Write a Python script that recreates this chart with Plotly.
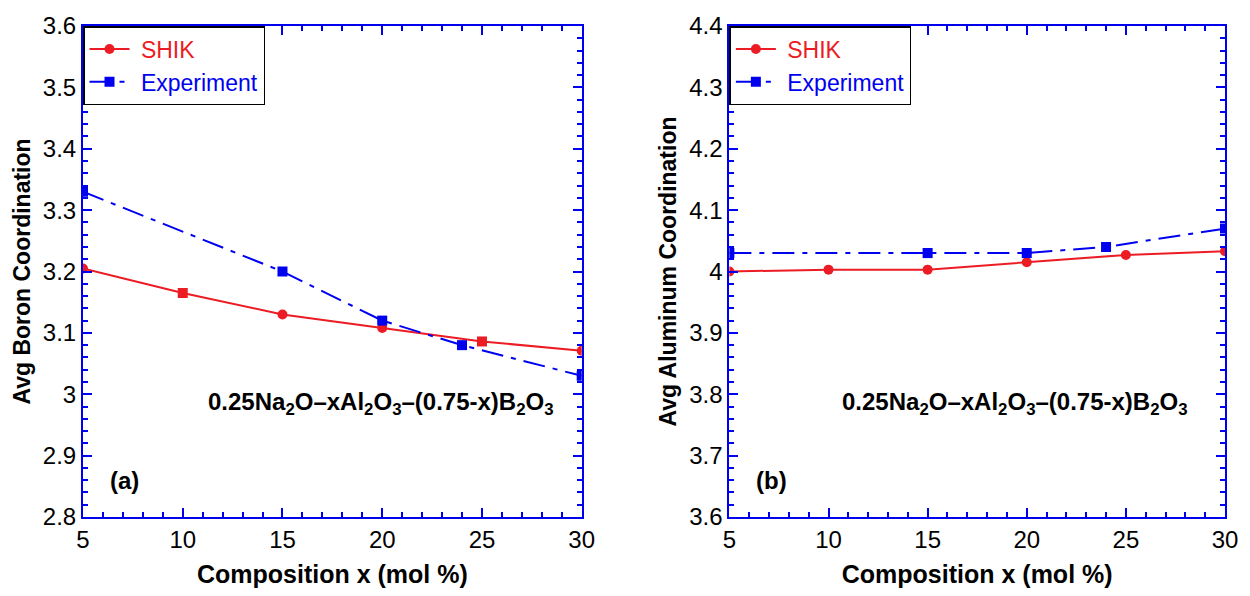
import plotly.graph_objects as go

# ---- data ----
x_shik = [5, 10, 15, 20, 25, 30]
boron_shik = [3.205, 3.165, 3.130, 3.108, 3.086, 3.071]
boron_shik_sym = ["circle", "square", "circle", "circle", "square", "circle"]
x_exp_b = [5, 15, 20, 24, 30]
boron_exp = [3.330, 3.200, 3.120, 3.080, 3.030]

al_shik = [4.000, 4.003, 4.003, 4.015, 4.027, 4.033]
x_exp_al = [5, 15, 20, 24, 30]
al_exp = [4.030, 4.030, 4.030, 4.040, 4.070]

x_ticks = [5, 10, 15, 20, 25, 30]
boron_ticks = [2.8, 2.9, 3.0, 3.1, 3.2, 3.3, 3.4, 3.5, 3.6]
al_ticks = [3.6, 3.7, 3.8, 3.9, 4.0, 4.1, 4.2, 4.3, 4.4]

RED = "#EC1C24"
BLUE = "#0000F0"
FONT = "Liberation Sans, Arial, sans-serif"
DASH = "22px,8px,5px,8px"

fig = go.Figure()

fig.add_trace(go.Scatter(x=x_shik, y=boron_shik, mode="lines+markers",
                         name=f"<span style='color:{RED}'>\u00a0SHIK</span>",
                         line=dict(color=RED, width=2),
                         marker=dict(symbol=boron_shik_sym, size=10, color=RED),
                         xaxis="x", yaxis="y", legend="legend"))
fig.add_trace(go.Scatter(x=x_exp_b, y=boron_exp, mode="lines+markers",
                         name=f"<span style='color:{BLUE}'>\u00a0Experiment</span>",
                         line=dict(color=BLUE, width=2, dash=DASH),
                         marker=dict(symbol="square", size=10, color=BLUE),
                         xaxis="x", yaxis="y", legend="legend"))
fig.add_trace(go.Scatter(x=x_shik, y=al_shik, mode="lines+markers",
                         name=f"<span style='color:{RED}'>\u00a0SHIK</span>",
                         line=dict(color=RED, width=2),
                         marker=dict(symbol="circle", size=10, color=RED),
                         xaxis="x2", yaxis="y2", legend="legend2"))
fig.add_trace(go.Scatter(x=x_exp_al, y=al_exp, mode="lines+markers",
                         name=f"<span style='color:{BLUE}'>\u00a0Experiment</span>",
                         line=dict(color=BLUE, width=2, dash=DASH),
                         marker=dict(symbol="square", size=10, color=BLUE),
                         xaxis="x2", yaxis="y2", legend="legend2"))

def xax(domain, anchor):
    return dict(domain=domain, anchor=anchor, range=[5, 30], tickvals=x_ticks,
                ticks="inside", ticklen=9, tickwidth=2, tickcolor=BLUE,
                minor=dict(dtick=1, ticks="inside", ticklen=5, tickwidth=1.5, tickcolor=BLUE),
                showline=True, linecolor=BLUE, linewidth=2, mirror="allticks",
                showgrid=False, zeroline=False,
                tickfont=dict(family=FONT, size=24, color="black"),
                title=dict(text="<b>Composition x (mol %)</b>", standoff=14,
                           font=dict(family=FONT, size=25, color="black")))

def yax(rng, ticks, anchor, title):
    return dict(domain=[0, 1], anchor=anchor, range=rng, tickvals=ticks,
                ticktext=[f"{t:g}" for t in ticks],
                ticks="inside", ticklen=9, tickwidth=2, tickcolor=BLUE,
                minor=dict(dtick=0.02, ticks="inside", ticklen=5, tickwidth=1.5, tickcolor=BLUE),
                showline=True, linecolor=BLUE, linewidth=2, mirror="allticks",
                showgrid=False, zeroline=False,
                tickfont=dict(family=FONT, size=24, color="black"),
                title=dict(text=f"<b>{title}</b>", standoff=6,
                           font=dict(family=FONT, size=23, color="black")))

legend_common = dict(yanchor="top", y=1, xanchor="left", bgcolor="white",
                     bordercolor="black", borderwidth=1.5,
                     font=dict(family=FONT, size=23), tracegroupgap=0,
                     itemwidth=40)

fig.update_layout(
    width=1250, height=596,
    margin=dict(l=83, r=22, t=22, b=78),
    paper_bgcolor="white", plot_bgcolor="white",
    font=dict(family=FONT, color="black"),
    xaxis=xax([0, 0.4367], "y"),
    yaxis=yax([2.8, 3.6], boron_ticks, "x", "Avg Boron Coordination"),
    xaxis2=xax([0.566, 1], "y2"),
    yaxis2=yax([3.6, 4.4], al_ticks, "x2", "Avg Aluminum Coordination"),
    legend=dict(x=0, **legend_common),
    legend2=dict(x=0.566, **legend_common),
)

formula = ("<b>0.25Na<sub>2</sub>O\u2013xAl<sub>2</sub>O<sub>3</sub>"
           "\u2013(0.75-x)B<sub>2</sub>O<sub>3</sub></b>")
TXT = dict(family=FONT, size=24, color="black")
fig.add_annotation(x=19.95, y=2.985, xref="x", yref="y", text=formula,
                   showarrow=False, font=TXT, xanchor="center", yanchor="middle")
fig.add_annotation(x=19.4, y=3.785, xref="x2", yref="y2", text=formula,
                   showarrow=False, font=TXT, xanchor="center", yanchor="middle")
fig.add_annotation(x=7.1, y=2.86, xref="x", yref="y", text="<b>(a)</b>",
                   showarrow=False, font=TXT, xanchor="center", yanchor="middle")
fig.add_annotation(x=7.1, y=3.66, xref="x2", yref="y2", text="<b>(b)</b>",
                   showarrow=False, font=TXT, xanchor="center", yanchor="middle")

fig.write_html("out.html")
